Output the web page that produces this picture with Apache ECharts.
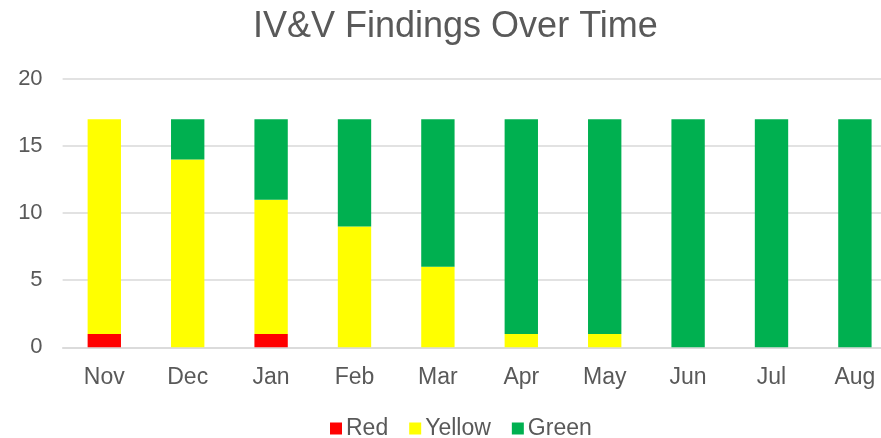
<!DOCTYPE html>
<html><head><meta charset="utf-8">
<script src="https://cdn.jsdelivr.net/npm/echarts@6/dist/echarts.min.js"></script>
<style>html,body{margin:0;padding:0;background:#fff}#c{width:881px;height:438px}</style>
</head><body><div id="c"></div>
<script>
const categories = ['Nov','Dec','Jan','Feb','Mar','Apr','May','Jun','Jul','Aug'];
const redValues = [1,0,1,0,0,0,0,0,0,0];
const yellowValues = [16,14,10,9,6,1,1,0,0,0];
const greenValues = [0,3,6,8,11,16,16,17,17,17];
const yTicks = [0,5,10,15,20];

const font = 'Liberation Sans, Arial, sans-serif';
const chart = echarts.init(document.getElementById('c'), null, {renderer:'canvas'});
const mk = (name, data, color) => ({
  name, type:'bar', stack:'s', data, barWidth:'40%',
  itemStyle:{color}, emphasis:{disabled:true}
});
chart.setOption({
  animation:false,
  title:{text:'IV&V Findings Over Time', left:248, top:4,
    textStyle:{fontFamily:font, fontSize:36, fontWeight:'normal', color:'#595959'}},
  legend:{top:412, left:325, itemWidth:12, itemHeight:12, itemGap:21,
    icon:'rect', textStyle:{fontFamily:font, fontSize:23, color:'#595959', padding:[0,0,0,-1]},
    data:['Red','Yellow','Green']},
  grid:{left:62.6, width:834, top:79, height:268.3, containLabel:false, outerBoundsMode:'none'},
  xAxis:{type:'category', data:categories,
    axisLine:{lineStyle:{color:'#d9d9d9', width:1.5}}, axisTick:{show:false},
    axisLabel:{fontFamily:font, fontSize:23, color:'#595959', margin:19}},
  yAxis:{type:'value', min:yTicks[0], max:yTicks[yTicks.length-1], interval:5,
    splitLine:{lineStyle:{color:'#d9d9d9', width:1.5}},
    axisLabel:{fontFamily:font, fontSize:22, color:'#595959', margin:20}},
  series:[mk('Red', redValues, '#ff0000'), mk('Yellow', yellowValues, '#ffff00'), mk('Green', greenValues, '#00b050')]
});
</script></body></html>
